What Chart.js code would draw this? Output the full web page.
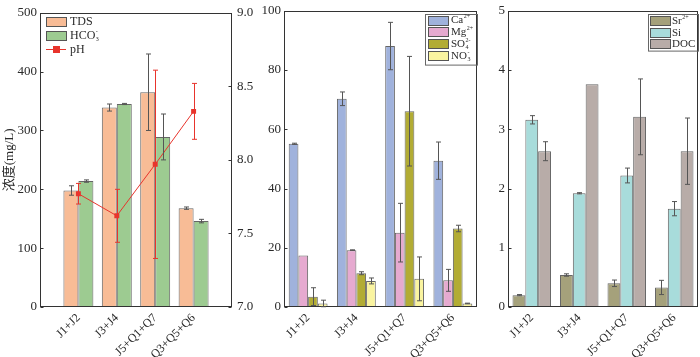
<!DOCTYPE html>
<html>
<head>
<meta charset="utf-8">
<script src="https://cdn.jsdelivr.net/npm/chart.js@4.4.0/dist/chart.umd.min.js"></script>
<style>
  body { margin: 0; background: #fff; }
  .box { position: absolute; top: 0; height: 357px; }
</style>
</head>
<body>
<div class="box" style="left:0;width:262px"><canvas id="c1"></canvas></div>
<div class="box" style="left:262px;width:218px"><canvas id="c2"></canvas></div>
<div class="box" style="left:480px;width:220px"><canvas id="c3"></canvas></div>
<script>
// sample groups
const groups = ['J1+J2', 'J3+J4', 'J5+Q1+Q7', 'Q3+Q5+Q6']

// panel 1 (mg/L, pH on right axis)
const tds = [198, 339, 365, 168]
const tdsErr = [8, 6, 65, 2]
const hco3 = [214, 345, 289, 146]
const hco3Err = [2, 1, 39, 3]
const ph = [7.77, 7.62, 7.97, 8.33]
const phErr = [0.07, 0.18, 0.64, 0.19]

// panel 2
const ca = [55.1, 70.3, 88.1, 49.4]
const caErr = [0.2, 2.3, 8.0, 6.3]
const mg = [17.4, 19.2, 25.1, 9.0]
const mgErr = [0, 0.1, 9.9, 3.7]
const so4 = [3.5, 11.4, 66.1, 26.5]
const so4Err = [3.0, 0.5, 18.5, 1.1]
const no3 = [1.2, 8.8, 9.5, 1.2]
const no3Err = [1.1, 1.0, 7.4, 0.1]

// panel 3
const sr = [0.2, 0.54, 0.40, 0.33]
const srErr = [0.01, 0.02, 0.055, 0.12]
const si = [3.16, 1.92, 2.22, 1.66]
const siErr = [0.07, 0.01, 0.125, 0.12]
const doc = [2.63, 3.76, 3.21, 2.63]
const docErr = [0.16, 0, 0.64, 0.56]

// legend text: [text, subscript, superscript]
const legend1 = [['TDS'], ['HCO', '3', '-'], ['pH']]
const legend2 = [['Ca', '', '2+'], ['Mg', '', '2+'], ['SO', '4', '2-'], ['NO', '3', '-']]
const legend3 = [['Sr', '', '2+'], ['Si'], ['DOC']]

const SERIF = "'Liberation Serif', 'DejaVu Serif', serif"
Chart.defaults.font.family = SERIF
Chart.defaults.color = '#2a2a2a'
const EDGE = '#666'

function pad(a) { return [null, ...a, null] }

const errorBars = {
  id: 'errorBars',
  afterDatasetsDraw(chart) {
    const ctx = chart.ctx
    chart.data.datasets.forEach((ds, i) => {
      if (!ds.errors) return
      const meta = chart.getDatasetMeta(i)
      const ys = chart.scales[meta.yAxisID]
      meta.data.forEach((el, j) => {
        const v = ds.data[j], e = ds.errors[j]
        if (v == null || !e) return
        const x = Math.round(el.x) + 0.5
        const t = ys.getPixelForValue(v + e), b = ys.getPixelForValue(v - e)
        ctx.save()
        ctx.strokeStyle = ds.errorColor || '#555'
        ctx.lineWidth = 1
        ctx.beginPath()
        ctx.moveTo(x, t); ctx.lineTo(x, b)
        ctx.moveTo(x - 2.5, t); ctx.lineTo(x + 2.5, t)
        ctx.moveTo(x - 2.5, b); ctx.lineTo(x + 2.5, b)
        ctx.stroke()
        ctx.restore()
      })
    })
  }
}

const frame = {
  id: 'frame',
  afterDatasetsDraw(chart) {
    const a = chart.chartArea, ctx = chart.ctx
    ctx.save()
    ctx.strokeStyle = '#333'
    ctx.lineWidth = 1
    const l = Math.round(a.left) + 0.5, t = Math.round(a.top) + 0.5
    const r = Math.round(a.right) - 0.5, b = Math.round(a.bottom) - 0.5
    ctx.strokeRect(l, t, r - l, b - t)
    // inward ticks
    const y = chart.scales.y
    y.ticks.forEach(tk => {
      const p = Math.round(y.getPixelForValue(tk.value)) + 0.5
      ctx.beginPath(); ctx.moveTo(l, p); ctx.lineTo(l + 3, p); ctx.stroke()
    })
    if (chart.scales.y2) {
      chart.scales.y2.ticks.forEach(tk => {
        const p = Math.round(chart.scales.y2.getPixelForValue(tk.value)) + 0.5
        ctx.beginPath(); ctx.moveTo(r - 3, p); ctx.lineTo(r, p); ctx.stroke()
      })
    }
    ctx.restore()
  }
}

const boxLegend = {
  id: 'boxLegend',
  afterDraw(chart, args, o) {
    if (!o.items) return
    const ctx = chart.ctx, a = chart.chartArea
    const fx = o.right != null ? a.right - o.right - o.w : a.left + o.left
    const fy = a.top + o.top
    ctx.save()
    ctx.lineWidth = 1
    if (o.frame) {
      ctx.strokeStyle = '#666'
      ctx.strokeRect(Math.round(fx) + 0.5, Math.round(fy) + 0.5, o.w, o.h)
    }
    o.items.forEach((it, i) => {
      const ds = chart.data.datasets[i]
      const cy = fy + o.first + i * o.rowH
      const bx = Math.round(fx + o.pad)
      if (ds.type === 'line') {
        ctx.strokeStyle = ds.borderColor
        ctx.beginPath(); ctx.moveTo(bx, Math.round(cy) + 0.5); ctx.lineTo(bx + 20, Math.round(cy) + 0.5); ctx.stroke()
        ctx.fillStyle = ds.borderColor
        ctx.fillRect(bx + 7, Math.round(cy) - 3, 7, 7)
      } else {
        const by = Math.round(cy - 4.5)
        ctx.fillStyle = ds.backgroundColor
        ctx.fillRect(bx, by, 20, 9)
        ctx.strokeStyle = '#555'
        ctx.strokeRect(bx + 0.5, by + 0.5, 20, 9)
      }
      let tx = bx + o.gap
      ctx.fillStyle = '#2a2a2a'
      ctx.textBaseline = 'middle'
      ctx.font = o.size + 'px ' + SERIF
      ctx.fillText(it[0], tx, cy + 0.5)
      tx += ctx.measureText(it[0]).width + 0.5
      ctx.font = '6px ' + SERIF
      if (it[1]) ctx.fillText(it[1], tx, cy + 4)
      if (it[2]) ctx.fillText(it[2], tx, cy - 3.5)
    })
    ctx.restore()
  }
}

function bar(label, data, err, color) {
  return {
    type: 'bar', label: label, data: data, errors: err,
    backgroundColor: color, borderColor: EDGE, borderWidth: 1, order: 2
  }
}

function xAxis(offset, fitH) {
  return {
    offset: offset,
    grid: { display: false, drawTicks: false },
    border: { display: false },
    ticks: { autoSkip: false, minRotation: 45, maxRotation: 45, padding: 4, font: { size: 12 } },
    afterFit: s => { s.height = fitH }
  }
}

function yAxis(min, max, step, w, extra) {
  return Object.assign({
    min: min, max: max,
    grid: { display: false, drawTicks: false },
    border: { display: false },
    ticks: { stepSize: step, padding: 3, font: { size: 13 } },
    afterFit: s => { s.width = w }
  }, extra || {})
}

new Chart(document.getElementById('c1'), {
  type: 'bar',
  data: {
    labels: ['', ...groups, ''],
    datasets: [
      bar('TDS', pad(tds), pad(tdsErr), '#F8BC96'),
      bar('HCO3-', pad(hco3), pad(hco3Err), '#9DCB91'),
      {
        type: 'line', label: 'pH', data: pad(ph), errors: pad(phErr), errorColor: '#E8342C',
        yAxisID: 'y2', borderColor: '#E8342C', backgroundColor: '#E8342C', borderWidth: 1,
        pointStyle: 'rect', pointRadius: 3.5, pointBorderWidth: 0, order: 0
      }
    ]
  },
  options: {
    responsive: true, maintainAspectRatio: false, animation: false,
    layout: { padding: { top: 4, right: 0 } },
    datasets: { bar: { categoryPercentage: 0.78, barPercentage: 1 } },
    scales: {
      x: xAxis(false, 50),
      y: yAxis(0, 500, 100, 40, {
        title: { display: true, text: '浓度(mg/L)', padding: { top: 2, bottom: 0 },
          font: { size: 13, family: "'Liberation Serif', 'Noto Sans CJK SC', serif" } }
      }),
      y2: {
        position: 'right', min: 7, max: 9,
        grid: { display: false, drawTicks: false },
        border: { display: false },
        ticks: { stepSize: 0.5, padding: 5, font: { size: 13 }, callback: v => v.toFixed(1) },
        afterFit: s => { s.width = 30 }
      }
    },
    plugins: {
      legend: { display: false }, tooltip: { enabled: false },
      boxLegend: { items: legend1, left: 6, top: 0, first: 8.5, rowH: 14, pad: 0, gap: 24, frame: false, size: 12 }
    }
  },
  plugins: [frame, errorBars, boxLegend]
})

new Chart(document.getElementById('c2'), {
  type: 'bar',
  data: {
    labels: groups,
    datasets: [
      bar('Ca2+', ca, caErr, '#A0B2DC'),
      bar('Mg2+', mg, mgErr, '#E6AAD0'),
      bar('SO42-', so4, so4Err, '#B2AC34'),
      bar('NO3-', no3, no3Err, '#FAF4A0')
    ]
  },
  options: {
    responsive: true, maintainAspectRatio: false, animation: false,
    layout: { padding: { top: 4, right: 3 } },
    datasets: { bar: { categoryPercentage: 0.805, barPercentage: 1 } },
    scales: {
      x: xAxis(true, 50),
      y: yAxis(0, 100, 20, 22)
    },
    plugins: {
      legend: { display: false }, tooltip: { enabled: false },
      boxLegend: { items: legend2, right: 0, w: 52, top: 2.7, h: 50.6, first: 6.6, rowH: 11.8, pad: 3, gap: 23, frame: true, size: 11 }
    }
  },
  plugins: [frame, errorBars, boxLegend]
})

new Chart(document.getElementById('c3'), {
  type: 'bar',
  data: {
    labels: groups,
    datasets: [
      bar('Sr2+', sr, srErr, '#A5A17B'),
      bar('Si', si, siErr, '#A8DCDB'),
      bar('DOC', doc, docErr, '#B8ACA8')
    ]
  },
  options: {
    responsive: true, maintainAspectRatio: false, animation: false,
    layout: { padding: { top: 4, right: 2 } },
    datasets: { bar: { categoryPercentage: 0.81, barPercentage: 1 } },
    scales: {
      x: xAxis(true, 50),
      y: yAxis(0, 5, 1, 28)
    },
    plugins: {
      legend: { display: false }, tooltip: { enabled: false },
      boxLegend: { items: legend3, right: 0, w: 50, top: 2.7, h: 36.6, first: 7.1, rowH: 11.6, pad: 2, gap: 22, frame: true, size: 11 }
    }
  },
  plugins: [frame, errorBars, boxLegend]
})
</script>
</body>
</html>
